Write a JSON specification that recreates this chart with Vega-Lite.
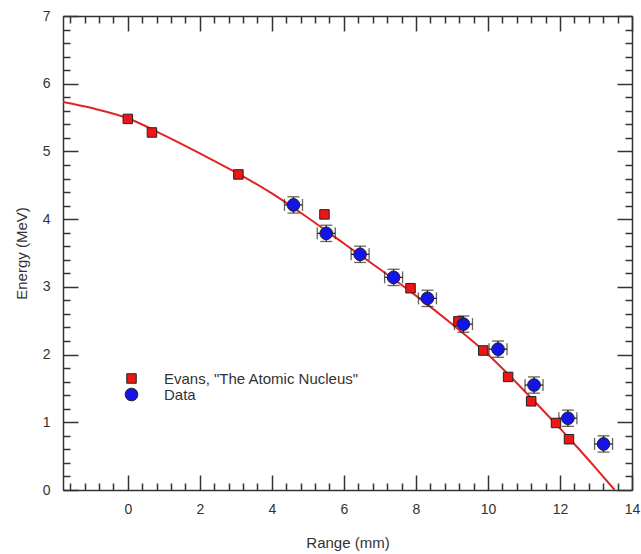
{
  "$schema": "https://vega.github.io/schema/vega-lite/v6.json",
  "autosize": "none",
  "width": 569,
  "height": 474,
  "padding": {"left": 63, "top": 16, "right": 9, "bottom": 64},
  "background": "white",
  "config": {
    "view": {"stroke": "#333", "strokeWidth": 1},
    "font": "Liberation Sans",
    "axis": {"grid": false}
  },
  "datasets": {
    "curve": [
      {"r": -1.8, "e": 5.73}, {"r": -1, "e": 5.64}, {"r": 0, "e": 5.49}, {"r": 1, "e": 5.24},
      {"r": 2, "e": 4.97}, {"r": 3, "e": 4.69}, {"r": 4, "e": 4.38}, {"r": 5, "e": 4.02},
      {"r": 6, "e": 3.64}, {"r": 7, "e": 3.26}, {"r": 8, "e": 2.87}, {"r": 9, "e": 2.45},
      {"r": 10, "e": 2.0}, {"r": 11, "e": 1.47}, {"r": 12, "e": 0.91}, {"r": 12.5, "e": 0.62},
      {"r": 13, "e": 0.32}, {"r": 13.52, "e": 0}
    ],
    "points": [
      {"series": "Evans, \"The Atomic Nucleus\"", "r": 0, "e": 5.48},
      {"series": "Evans, \"The Atomic Nucleus\"", "r": 0.67, "e": 5.28},
      {"series": "Evans, \"The Atomic Nucleus\"", "r": 3.07, "e": 4.66},
      {"series": "Evans, \"The Atomic Nucleus\"", "r": 5.46, "e": 4.07},
      {"series": "Evans, \"The Atomic Nucleus\"", "r": 7.85, "e": 2.98},
      {"series": "Evans, \"The Atomic Nucleus\"", "r": 9.18, "e": 2.49},
      {"series": "Evans, \"The Atomic Nucleus\"", "r": 9.87, "e": 2.06},
      {"series": "Evans, \"The Atomic Nucleus\"", "r": 10.56, "e": 1.67},
      {"series": "Evans, \"The Atomic Nucleus\"", "r": 11.2, "e": 1.31},
      {"series": "Evans, \"The Atomic Nucleus\"", "r": 11.89, "e": 0.99},
      {"series": "Evans, \"The Atomic Nucleus\"", "r": 12.25, "e": 0.75},
      {"series": "Data", "r": 4.6, "e": 4.21, "rerr": 0.25, "eerr": 0.12},
      {"series": "Data", "r": 5.51, "e": 3.79, "rerr": 0.25, "eerr": 0.12},
      {"series": "Data", "r": 6.45, "e": 3.48, "rerr": 0.25, "eerr": 0.12},
      {"series": "Data", "r": 7.38, "e": 3.14, "rerr": 0.25, "eerr": 0.12},
      {"series": "Data", "r": 8.32, "e": 2.83, "rerr": 0.25, "eerr": 0.12},
      {"series": "Data", "r": 9.32, "e": 2.45, "rerr": 0.25, "eerr": 0.12},
      {"series": "Data", "r": 10.28, "e": 2.08, "rerr": 0.25, "eerr": 0.12},
      {"series": "Data", "r": 11.28, "e": 1.55, "rerr": 0.25, "eerr": 0.12},
      {"series": "Data", "r": 12.22, "e": 1.06, "rerr": 0.25, "eerr": 0.12},
      {"series": "Data", "r": 13.21, "e": 0.68, "rerr": 0.25, "eerr": 0.12}
    ]
  },
  "resolve": {"axis": {"x": "independent", "y": "independent"}},
  "layer": [
    {
      "data": {"name": "curve"},
      "mark": {"type": "line", "color": "#e32222", "strokeWidth": 2, "interpolate": "monotone", "clip": true},
      "encoding": {
        "x": {
          "field": "r", "type": "quantitative",
          "scale": {"domain": [-1.8, 14], "nice": false, "zero": false},
          "axis": {
            "orient": "bottom", "title": "Range (mm)", "format": "~g",
            "values": [-1.6,-1.2,-0.8,-0.4,0,0.4,0.8,1.2,1.6,2,2.4,2.8,3.2,3.6,4,4.4,4.8,5.2,5.6,6,6.4,6.8,7.2,7.6,8,8.4,8.8,9.2,9.6,10,10.4,10.8,11.2,11.6,12,12.4,12.8,13.2,13.6,14],
            "labelExpr": "datum.value % 2 === 0 ? datum.label : ''",
            "tickSize": {"condition": {"test": "datum.value % 2 === 0", "value": -15}, "value": -7},
            "tickColor": "#333", "tickWidth": 1.5, "domainColor": "#333", "domainWidth": 1.5,
            "labelPadding": 27, "labelFontSize": 14, "labelColor": "#333", "labelFlush": false, "labelOverlap": false,
            "titleFontSize": 15, "titleFontWeight": "normal", "titleColor": "#333", "titlePadding": 11
          }
        },
        "y": {
          "field": "e", "type": "quantitative",
          "scale": {"domain": [0, 7], "nice": false},
          "axis": {
            "orient": "left", "title": "Energy (MeV)", "format": "~g",
            "values": [0,0.2,0.4,0.6,0.8,1,1.2,1.4,1.6,1.8,2,2.2,2.4,2.6,2.8,3,3.2,3.4,3.6,3.8,4,4.2,4.4,4.6,4.8,5,5.2,5.4,5.6,5.8,6,6.2,6.4,6.6,6.8,7],
            "labelExpr": "datum.value % 1 === 0 ? datum.label : ''",
            "tickSize": {"condition": {"test": "datum.value % 1 === 0", "value": -15}, "value": -7},
            "tickColor": "#333", "tickWidth": 1.5, "domainColor": "#333", "domainWidth": 1.5,
            "labelPadding": 28, "labelFontSize": 14, "labelColor": "#333", "labelFlush": false, "labelOverlap": false,
            "titleFontSize": 15, "titleFontWeight": "normal", "titleColor": "#333", "titlePadding": 13
          }
        }
      }
    },
    {
      "data": {"name": "points"},
      "transform": [{"filter": "datum.series === 'Data'"}],
      "mark": {"type": "errorbar", "color": "#222", "thickness": 1.3, "ticks": {"size": 12, "color": "#222"}},
      "encoding": {
        "x": {
          "field": "r", "type": "quantitative",
          "axis": {
            "orient": "top", "title": null, "labels": false,
            "values": [-1.6,-1.2,-0.8,-0.4,0,0.4,0.8,1.2,1.6,2,2.4,2.8,3.2,3.6,4,4.4,4.8,5.2,5.6,6,6.4,6.8,7.2,7.6,8,8.4,8.8,9.2,9.6,10,10.4,10.8,11.2,11.6,12,12.4,12.8,13.2,13.6,14],
            "tickSize": {"condition": {"test": "datum.value % 2 === 0", "value": -15}, "value": -7},
            "tickColor": "#333", "tickWidth": 1.5, "domainColor": "#333", "domainWidth": 1.5
          }
        },
        "xError": {"field": "rerr"},
        "y": {
          "field": "e", "type": "quantitative",
          "axis": {
            "orient": "right", "title": null, "labels": false,
            "values": [0,0.2,0.4,0.6,0.8,1,1.2,1.4,1.6,1.8,2,2.2,2.4,2.6,2.8,3,3.2,3.4,3.6,3.8,4,4.2,4.4,4.6,4.8,5,5.2,5.4,5.6,5.8,6,6.2,6.4,6.6,6.8,7],
            "tickSize": {"condition": {"test": "datum.value % 1 === 0", "value": -15}, "value": -7},
            "tickColor": "#333", "tickWidth": 1.5, "domainColor": "#333", "domainWidth": 1.5
          }
        }
      }
    },
    {
      "data": {"name": "points"},
      "transform": [{"filter": "datum.series === 'Data'"}],
      "mark": {"type": "errorbar", "color": "#222", "thickness": 1.3, "ticks": {"size": 12, "color": "#222"}},
      "encoding": {
        "x": {"field": "r", "type": "quantitative", "axis": null},
        "y": {"field": "e", "type": "quantitative", "axis": null},
        "yError": {"field": "eerr"}
      }
    },
    {
      "data": {"name": "points"},
      "mark": {"type": "point", "filled": true, "opacity": 1, "stroke": "#222", "strokeWidth": 1},
      "encoding": {
        "x": {"field": "r", "type": "quantitative", "axis": null},
        "y": {"field": "e", "type": "quantitative", "axis": null},
        "color": {
          "field": "series", "type": "nominal",
          "scale": {"domain": ["Evans, \"The Atomic Nucleus\"", "Data"], "range": ["#ee1515", "#1414e8"]},
          "legend": {
            "title": null, "orient": "none", "legendX": 61, "legendY": 355,
            "labelFont": "Liberation Sans", "labelFontSize": 15, "labelColor": "#333", "labelLimit": 400,
            "symbolStrokeColor": "#222", "symbolStrokeWidth": 1, "symbolSize": 100,
            "labelOffset": 25, "rowPadding": -3, "padding": 0
          }
        },
        "shape": {
          "field": "series", "type": "nominal",
          "scale": {"domain": ["Evans, \"The Atomic Nucleus\"", "Data"], "range": ["square", "circle"]},
          "legend": null
        },
        "size": {
          "field": "series", "type": "nominal",
          "scale": {"domain": ["Evans, \"The Atomic Nucleus\"", "Data"], "range": [90, 160]},
          "legend": null
        }
      }
    }
  ]
}
